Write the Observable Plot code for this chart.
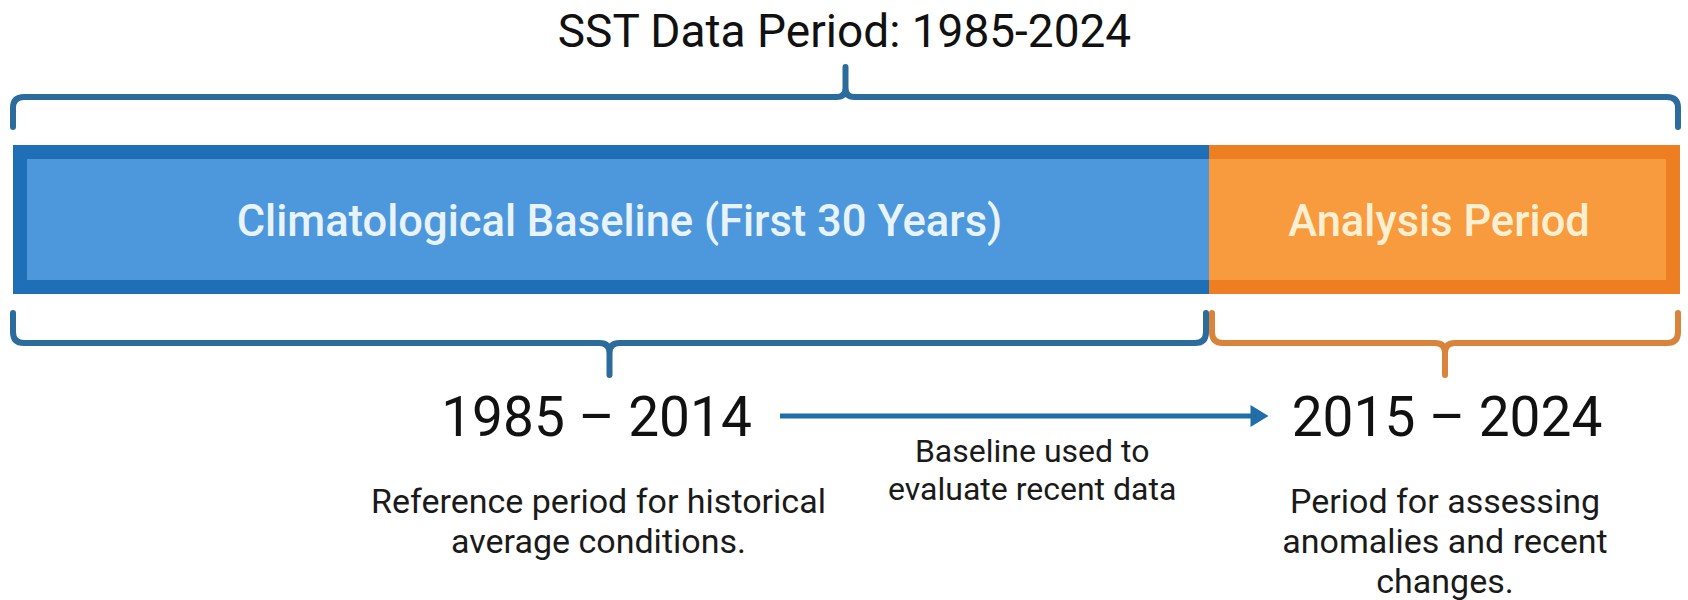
<!DOCTYPE html>
<html><head><meta charset="utf-8">
<script src="https://cdn.jsdelivr.net/npm/d3@7"></script>
<script src="https://cdn.jsdelivr.net/npm/@observablehq/plot@0.6"></script>
<style>body{margin:0;background:#fff;} svg{display:block;}</style>
</head><body><div id="chart"></div>
<script>
// ---- data ----
const title = "SST Data Period: 1985-2024";
const periodNames = ["Climatological Baseline (First 30 Years)", "Analysis Period"];
const periodStart = [1985, 2015];
const periodEnd = [2015, 2025];
const rangeLabels = ["1985 – 2014", "2015 – 2024"];
const periodNotes = ["Reference period for historical\naverage conditions.", "Period for assessing\nanomalies and recent\nchanges."];
const linkNote = "Baseline used to\nevaluate recent data";

// ---- styles ----
const fillInner = ["#4d98dc", "#f79b3e"];
const fillOuter = ["#1f6fb6", "#ee7e22"];
const braceColor = ["#2b6c9c", "#d9843a"];
const barTextColor = ["#e8f3fb", "#fdf0d2"];
const arrowColor = "#1f6ea8";
const font = "Roboto, 'Noto Sans', sans-serif";
const Y = {title: 32, topBrace: 97, topEnd: 127, topCusp: 67, barTop: 145, barBottom: 294, barText: 222,
           botBrace: 343, botEnd: 313, botCusp: 375, range: 418, arrow: 416, link: 434, note: 484};
const border = 14;
const nameShift = [8, -6];
const labelShift = [-15, 2];
const noteShift = [-13, 0];

const periods = periodNames.map((name, i) => ({
  i, name, start: periodStart[i], end: periodEnd[i], mid: (periodStart[i] + periodEnd[i]) / 2,
  range: rangeLabels[i], note: periodNotes[i]
}));

function bracePath(xa, xb, yl, yEnd, yCusp, r, rc) {
  const d = Math.sign(yEnd - yl);
  const xm = (xa + xb) / 2;
  return `M${xa},${yEnd}L${xa},${yl + d * r}Q${xa},${yl} ${xa + r},${yl}` +
    `L${xm - rc},${yl}Q${xm},${yl} ${xm},${yl - d * rc}L${xm},${yCusp}` +
    `M${xm},${yl - d * rc}Q${xm},${yl} ${xm + rc},${yl}` +
    `L${xb - r},${yl}Q${xb},${yl} ${xb},${yl + d * r}L${xb},${yEnd}`;
}

function shapes(index, scales) {
  const x = scales.x, y = scales.y;
  const g = d3.create("svg:g").attr("fill", "none").attr("stroke-linecap", "round").attr("stroke-linejoin", "round");
  g.append("path")
    .attr("d", bracePath(x(periodStart[0]), x(periodEnd[1]) - 2, y(Y.topBrace), y(Y.topEnd), y(Y.topCusp), 11, 9))
    .attr("stroke", braceColor[0]).attr("stroke-width", 6);
  periods.forEach((p, i) => {
    const xa = x(p.start) + (i === 0 ? 0 : 3);
    const xb = x(p.end) - (i === 0 ? 3 : 2);
    g.append("path")
      .attr("d", bracePath(xa, xb, y(Y.botBrace), y(Y.botEnd), y(Y.botCusp), 11, 10))
      .attr("stroke", braceColor[i]).attr("stroke-width", 6);
  });
  const ya = y(Y.arrow);
  const xs = x(periods[0].mid) + 169, tip = x(periods[1].mid) - 176;
  g.append("path").attr("d", `M${xs},${ya}L${tip - 14},${ya}`).attr("stroke", arrowColor).attr("stroke-width", 5).attr("stroke-linecap", "butt");
  g.append("path").attr("d", `M${tip},${ya}L${tip - 18},${ya - 11}L${tip - 18},${ya + 11}Z`).attr("fill", arrowColor).attr("stroke", "none");
  return g.node();
}

const perPeriod = (i, mark, opts) => mark(periods, {filter: d => d.i === i, ...opts});

const chart = Plot.plot({
  width: 1688, height: 600,
  marginTop: 0, marginBottom: 0, marginLeft: 0, marginRight: 0,
  style: {background: "#fff", fontFamily: font},
  x: {type: "linear", domain: [1985, 2015, 2025], range: [13, 1209, 1680], axis: null},
  y: {type: "linear", domain: [0, 600], range: [0, 600], axis: null},
  color: {type: "identity"},
  marks: [
    Plot.text([title], {frameAnchor: "top", lineAnchor: "middle", dy: Y.title, text: d => d, fontSize: 46, fill: "#111", fontFamily: font}),
    Plot.rect(periods, {x1: "start", x2: "end", y1: Y.barTop, y2: Y.barBottom, fill: d => fillOuter[d.i]}),
    perPeriod(0, Plot.rect, {x1: "start", x2: "end", y1: Y.barTop, y2: Y.barBottom,
      insetTop: border, insetBottom: border, insetLeft: border, fill: d => fillInner[d.i]}),
    perPeriod(1, Plot.rect, {x1: "start", x2: "end", y1: Y.barTop, y2: Y.barBottom,
      insetTop: border, insetBottom: border, insetRight: border, fill: d => fillInner[d.i]}),
    ...[0, 1].map(i => perPeriod(i, Plot.text, {x: "mid", y: Y.barText, dx: nameShift[i], text: "name", fill: d => barTextColor[d.i], fontSize: 43.5, fontWeight: 500, fontFamily: font})),
    shapes,
    ...[0, 1].map(i => perPeriod(i, Plot.text, {x: "mid", y: Y.range, dx: labelShift[i], text: "range", fontSize: 55, fill: "#111", fontFamily: font})),
    ...[0, 1].map(i => perPeriod(i, Plot.text, {x: "mid", y: Y.note, dx: noteShift[i], text: "note", lineAnchor: "top", lineHeight: 1.18, fontSize: 34, fill: "#1a1a1a", fontFamily: font})),
    Plot.text([linkNote], {x: 2010, y: Y.link, dx: 22, text: d => d, lineAnchor: "top", lineHeight: 1.2, fontSize: 32, fill: "#1a1a1a", fontFamily: font})
  ]
});
document.getElementById("chart").appendChild(chart);
</script>
</body></html>
